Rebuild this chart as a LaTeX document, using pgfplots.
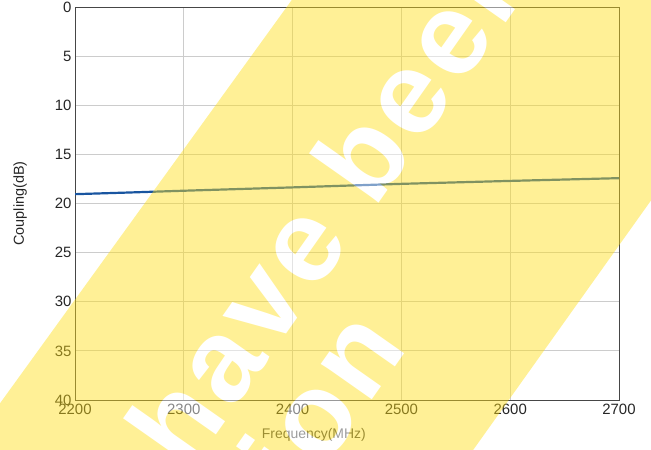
\documentclass[border=0pt]{standalone}
\usepackage{fontspec}
\setmainfont{Liberation Sans}
\newfontfamily\wmfont[LetterSpace=5]{Liberation Sans}
\usepackage{pgfplots}
\pgfplotsset{compat=1.18}
\definecolor{gridc}{RGB}{204,204,204}
\definecolor{axc}{RGB}{70,70,70}
\definecolor{linec}{RGB}{25,85,160}
\definecolor{wmy}{RGB}{255,222,22}
\begin{document}
\begin{tikzpicture}
\path[use as bounding box] (0,0) rectangle (651bp,450bp);
\begin{axis}[
  at={(75bp,50bp)}, anchor=south west,
  scale only axis, width=544bp, height=393bp,
  xmin=2200, xmax=2700, ymin=0, ymax=40, y dir=reverse,
  xtick={2200,2300,...,2700}, ytick={0,5,...,40},
  grid=major,
  major grid style={gridc, line width=1bp},
  axis line style={axc, line width=1bp},
  tick style={draw=none},
  /pgf/number format/assume math mode=true,
  /pgf/number format/1000 sep={},
  tick label style={font=\fontsize{15}{18}\selectfont, text=black!85},
  xticklabel style={yshift=-1bp},
  xlabel={Frequency(MHz)},
  ylabel={Coupling(dB)},
  xlabel style={font=\fontsize{14}{17}\selectfont, text=black!70, at={(axis description cs:0.439,-0.089)}, anchor=center},
  ylabel style={font=\fontsize{14.5}{17}\selectfont, text=black!85, at={(axis description cs:-0.101,0.5)}, anchor=center, rotate=0},
]
\addplot[linec, line width=2.2bp] coordinates {
(2200,19.05) (2250,18.88) (2300,18.70) (2350,18.53) (2400,18.36) (2450,18.18)
(2500,18.00) (2550,17.85) (2600,17.70) (2650,17.56) (2700,17.42)
};
\end{axis}
\begin{scope}
\clip (0,0) rectangle (651bp,450bp);
\begin{scope}[transparency group, opacity=0.45]
\fill[wmy] (-41bp,-10bp) -- (299bp,460bp) -- (801bp,460bp) -- (466bp,-10bp) -- cycle;
\node[anchor=base west, rotate=54.9, text=white, inner sep=0pt, font=\wmfont\bfseries\fontsize{118}{140}\selectfont] at (188bp,-25bp) {have been};
\node[anchor=base west, rotate=54.9, text=white, inner sep=0pt, font=\wmfont\bfseries\fontsize{118}{140}\selectfont] at (275bp,-89bp) {tion};
\end{scope}
\end{scope}
\end{tikzpicture}
\end{document}
